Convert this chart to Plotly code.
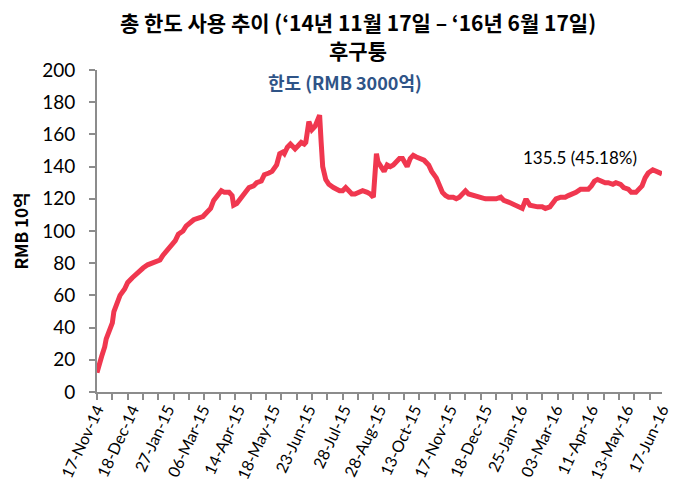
import plotly.graph_objects as go

# Trading-day index (0 = 17-Nov-14, 368 = 17-Jun-16) and quota used (RMB bn)
day_idx = [0, 1, 3, 5, 6, 8, 10, 11, 13, 15, 18, 20, 23, 25, 28, 30, 33, 36, 38, 41,
           43, 46, 49, 51, 53, 56, 58, 61, 63, 66, 69, 71, 74, 76, 79, 81, 83, 86, 88, 89,
           91, 94, 96, 99, 102, 104, 107, 109, 112, 114, 117, 119, 121, 122, 124, 126, 128, 129, 131, 133,
           135, 136, 138, 139, 140, 142, 143, 145, 146, 147, 149, 151, 154, 156, 158, 160, 162, 164, 166, 168,
           171, 173, 176, 178, 180, 181, 182, 183, 185, 187, 189, 191, 193, 195, 197, 199, 200, 202, 204, 206,
           208, 211, 213, 216, 218, 221, 223, 225, 227, 229, 232, 234, 236, 238, 240, 242, 245, 247, 250, 253,
           255, 258, 260, 263, 265, 268, 270, 273, 275, 277, 279, 280, 282, 285, 287, 290, 292, 295, 297, 299,
           302, 305, 307, 310, 312, 315, 317, 320, 322, 324, 326, 328, 331, 333, 336, 338, 341, 343, 346, 348,
           351, 353, 355, 357, 359, 362, 364, 366, 368]
quota_used = [12, 16, 22, 28, 33, 38, 43, 50, 55, 60, 64, 68, 71, 73, 75, 77, 79, 80, 81, 82,
              85, 88, 91, 94, 98, 100, 103, 105, 107, 108, 109, 111, 114, 119, 122, 125, 124, 124, 122, 116,
              117, 121, 124, 127, 128, 130, 131, 135, 136, 137, 141, 148, 149, 148, 152, 154, 152, 151, 153, 155,
              154, 155, 168, 164, 163, 165, 167, 172, 155, 140, 132, 129, 127, 126, 125, 125, 127, 125, 123, 123,
              124, 125, 124, 123, 121, 135, 148, 143, 140, 137, 141, 140, 141, 143, 145, 145, 143, 140, 145, 147,
              146, 145, 144, 141, 137, 133, 129, 124, 122, 121, 121, 120, 121, 123, 125, 123, 122, 122, 121, 120,
              120, 120, 120, 121, 119, 118, 117, 116, 115, 114, 119, 119, 116, 115, 115, 115, 114, 115, 118, 120,
              121, 121, 122, 123, 124, 126, 126, 126, 128, 131, 132, 131, 130, 130, 129, 130, 129, 127, 126, 124,
              124, 126, 128, 133, 136, 138, 137, 136, 135.5]

tick_idx = [0, 23, 46, 69, 92, 115, 138, 161, 184, 207, 230, 253, 276, 299, 322, 345, 368]
tick_labels = ["17-Nov-14", "18-Dec-14", "27-Jan-15", "06-Mar-15", "14-Apr-15", "18-May-15",
               "23-Jun-15", "28-Jul-15", "28-Aug-15", "13-Oct-15", "17-Nov-15", "18-Dec-15",
               "25-Jan-16", "03-Mar-16", "11-Apr-16", "13-May-16", "17-Jun-16"]

title_line1 = "총 한도 사용 추이 (‘14년 11월 17일 – ‘16년 6월 17일)"
title_line2 = "후구퉁"
quota_text = "한도 (RMB 3000억)"
last_label = "135.5 (45.18%)"
y_title = "RMB 10억"

axis_col = "#8c8c8c"
kr = "Noto Sans CJK KR"
lat = "Lato"

# plot area in page pixels: x 92..672, y 70..394 (page has an 8px body offset)
def px_x(x):
    return (x - 92) / 580

def px_y(y):
    return (394 - y) / 324

fig = go.Figure()
fig.add_trace(go.Scatter(
    x=day_idx, y=quota_used, mode="lines",
    line=dict(color="#F0374F", width=5, shape="linear"),
    hoverinfo="skip", showlegend=False,
))

fig.update_layout(
    width=676, height=486,
    paper_bgcolor="white", plot_bgcolor="white",
    margin=dict(l=84, r=12, t=62, b=100),
    showlegend=False,
    xaxis=dict(
        range=[0, 368], showgrid=False, zeroline=False,
        showline=True, linecolor=axis_col, linewidth=2,
        tickmode="array", tickvals=tick_idx, ticktext=tick_labels,
        ticks="", tickangle=-65,
        tickfont=dict(family=lat, size=16, color="#000"),
        minor=dict(ticks="outside", ticklen=6, tickcolor=axis_col, tickwidth=2,
                   tickmode="linear", tick0=0, dtick=10, showgrid=False),
    ),
    yaxis=dict(
        range=[0, 200], showgrid=False, zeroline=False,
        showline=True, linecolor=axis_col, linewidth=2,
        tickmode="linear", tick0=0, dtick=20,
        ticks="outside", ticklen=6, tickcolor=axis_col, tickwidth=2,
        ticklabelstandoff=10,
        tickfont=dict(family=lat, size=19, color="#000"),
        title=dict(text=y_title, font=dict(family=kr, size=17, color="#000", weight="bold"), standoff=10),
    ),
)

fig.add_annotation(xref="paper", yref="paper", x=px_x(360), y=px_y(22),
                   text="<b>" + title_line1 + "</b>", showarrow=False,
                   font=dict(family=kr, size=21, color="#000"), xanchor="center", yanchor="middle")
fig.add_annotation(xref="paper", yref="paper", x=px_x(360), y=px_y(50),
                   text="<b>" + title_line2 + "</b>", showarrow=False,
                   font=dict(family=kr, size=21, color="#000"), xanchor="center", yanchor="middle")
fig.add_annotation(xref="paper", yref="paper", x=px_x(347), y=px_y(82),
                   text="<b>" + quota_text + "</b>", showarrow=False,
                   font=dict(family=kr, size=18, color="#2F5487"), xanchor="center", yanchor="middle")
fig.add_annotation(xref="paper", yref="paper", x=px_x(588), y=px_y(158),
                   text=last_label, showarrow=False,
                   font=dict(family=lat, size=17, color="#000"), xanchor="center", yanchor="middle")

fig.write_html("out.html")
